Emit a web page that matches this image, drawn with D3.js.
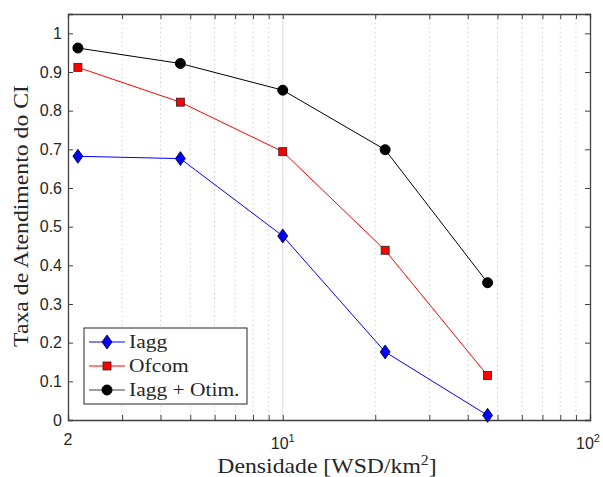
<!DOCTYPE html>
<html>
<head>
<meta charset="utf-8">
<script src="https://cdn.jsdelivr.net/npm/d3@7"></script>
<style>
  body { margin: 0; background: #fff; }
  text { fill: #262626; }
</style>
</head>
<body>
<div id="chart"></div>
<script>
// densidade values (log axis) and the three curves
var densidade = [2.154, 4.642, 10, 21.54, 46.42];
var iagg = [0.682, 0.676, 0.476, 0.176, 0.012];
var ofcom = [0.912, 0.822, 0.694, 0.439, 0.115];
var iaggOtim = [0.962, 0.922, 0.853, 0.699, 0.355];
var seriesNames = ["Iagg", "Ofcom", "Iagg + Otim."];
var yTicks = [0, 0.1, 0.2, 0.3, 0.4, 0.5, 0.6, 0.7, 0.8, 0.9, 1];
var xMinor = [3, 4, 5, 6, 7, 8, 9, 20, 30, 40, 50, 60, 70, 80, 90];

var W = 603, H = 477;
var pLeft = 68, pRight = 590, pTop = 14, pBottom = 420;

var svg = d3.select("#chart").append("svg")
    .attr("width", W)
    .attr("height", H);

var x = d3.scaleLog().domain([2, 100]).range([pLeft, pRight]);
var y = d3.scaleLinear().domain([0, 1.05]).range([pBottom, pTop]);

// grid: minor dotted, major solid
svg.append("g").selectAll("line")
    .data(xMinor)
    .enter().append("line")
    .attr("x1", function(d){ return x(d); })
    .attr("x2", function(d){ return x(d); })
    .attr("y1", pTop).attr("y2", pBottom)
    .attr("stroke", "#c8c8c8")
    .attr("stroke-width", 0.8)
    .attr("stroke-dasharray", "1.5,3");

svg.append("line")
    .attr("x1", x(10)).attr("x2", x(10))
    .attr("y1", pTop).attr("y2", pBottom)
    .attr("stroke", "#e0e0e0")
    .attr("stroke-width", 1);

// axes, ticks pointing inwards, on all four sides
var tickLen = 5;
var axisColor = "#404040";

svg.append("g")
    .attr("transform", "translate(0," + pBottom + ")")
    .call(d3.axisBottom(x).tickValues([2, 10, 100].concat(xMinor)).tickSize(-tickLen).tickFormat(""))
    .call(styleAxis);
svg.append("g")
    .attr("transform", "translate(0," + pTop + ")")
    .call(d3.axisTop(x).tickValues([2, 10, 100].concat(xMinor)).tickSize(-tickLen).tickFormat(""))
    .call(styleAxis);
svg.append("g")
    .attr("transform", "translate(" + pLeft + ",0)")
    .call(d3.axisLeft(y).tickValues(yTicks).tickSize(-tickLen).tickFormat(""))
    .call(styleAxis);
svg.append("g")
    .attr("transform", "translate(" + pRight + ",0)")
    .call(d3.axisRight(y).tickValues(yTicks).tickSize(-tickLen).tickFormat(""))
    .call(styleAxis);

function styleAxis(g){
    g.select(".domain").attr("stroke", axisColor).attr("stroke-width", 1.3);
    g.selectAll(".tick line").attr("stroke", axisColor).attr("stroke-width", 1);
}

var sans = "Liberation Sans, Arial, sans-serif";

// y tick labels
svg.append("g").selectAll("text")
    .data(yTicks)
    .enter().append("text")
    .attr("x", pLeft - 6)
    .attr("y", function(d){ return y(d); })
    .attr("dy", "0.36em")
    .attr("text-anchor", "end")
    .attr("font-family", sans)
    .attr("font-size", 16)
    .text(function(d){ return d === 0 || d === 1 ? d : d.toFixed(1); });

// x tick labels
svg.append("text")
    .attr("x", x(2)).attr("y", pBottom + 25)
    .attr("text-anchor", "middle")
    .attr("font-family", sans)
    .attr("font-size", 16)
    .text("2");
[[10, "1", -12], [100, "2", -14]].forEach(function(t){
    var tx = svg.append("text")
        .attr("x", x(t[0]) + t[2]).attr("y", pBottom + 29)
        .attr("font-family", sans)
        .attr("font-size", 16);
    tx.append("tspan").text("10");
    tx.append("tspan").attr("dy", -7).attr("font-size", 11).text(t[1]);
});

// axis labels (serif, stretched a little to look like the LaTeX font)
var serif = "Liberation Serif, Times New Roman, serif";
var xl = svg.append("text")
    .attr("transform", "translate(327,473) scale(1.13,1)")
    .attr("text-anchor", "middle")
    .attr("font-family", serif)
    .attr("font-size", 21);
xl.append("tspan").text("Densidade [WSD/km");
xl.append("tspan").attr("dy", -8).attr("font-size", 14).text("2");
xl.append("tspan").attr("dy", 8).text("]");

svg.append("text")
    .attr("transform", "translate(28,216) rotate(-90) scale(1.13,1)")
    .attr("text-anchor", "middle")
    .attr("font-family", serif)
    .attr("font-size", 21)
    .text("Taxa de Atendimento do CI");

// lines and markers
var series = [
    { name: seriesNames[0], values: iagg, color: "#0000ff", marker: "diamond" },
    { name: seriesNames[1], values: ofcom, color: "#ff0000", marker: "square" },
    { name: seriesNames[2], values: iaggOtim, color: "#000000", marker: "circle" }
];

var line = d3.line()
    .x(function(d){ return x(d[0]); })
    .y(function(d){ return y(d[1]); });

function drawMarker(g, type, color){
    if (type === "diamond") {
        g.append("path").attr("d", "M0,-7L5,0L0,7L-5,0Z")
            .attr("fill", color).attr("stroke", "#000").attr("stroke-width", 0.8);
    } else if (type === "square") {
        g.append("rect").attr("x", -4).attr("y", -4).attr("width", 8).attr("height", 8)
            .attr("fill", color).attr("stroke", "#222").attr("stroke-width", 0.8);
    } else {
        g.append("circle").attr("r", 5).attr("fill", color).attr("stroke", "#000");
    }
}

series.forEach(function(s){
    var pts = densidade.map(function(d, i){ return [d, s.values[i]]; });
    svg.append("path")
        .datum(pts)
        .attr("d", line)
        .attr("fill", "none")
        .attr("stroke", s.color)
        .attr("stroke-width", 1);
    pts.forEach(function(p){
        var g = svg.append("g").attr("transform", "translate(" + x(p[0]) + "," + y(p[1]) + ")");
        drawMarker(g, s.marker, s.color);
    });
});

// legend
var lg = svg.append("g").attr("transform", "translate(84,328)");
lg.append("rect")
    .attr("width", 163).attr("height", 76)
    .attr("fill", "#fff")
    .attr("stroke", "#262626")
    .attr("stroke-width", 1);
series.forEach(function(s, i){
    var yy = 14 + i * 24;
    lg.append("line")
        .attr("x1", 5).attr("x2", 41)
        .attr("y1", yy).attr("y2", yy)
        .attr("stroke", s.color === "#000000" ? "#404040" : s.color)
        .attr("stroke-width", 1);
    var g = lg.append("g").attr("transform", "translate(23," + yy + ")");
    drawMarker(g, s.marker, s.color);
    lg.append("text")
        .attr("transform", "translate(45," + (yy + 6) + ") scale(1.13,1)")
        .attr("font-family", serif)
        .attr("font-size", 19)
        .text(s.name);
});
</script>
</body>
</html>
